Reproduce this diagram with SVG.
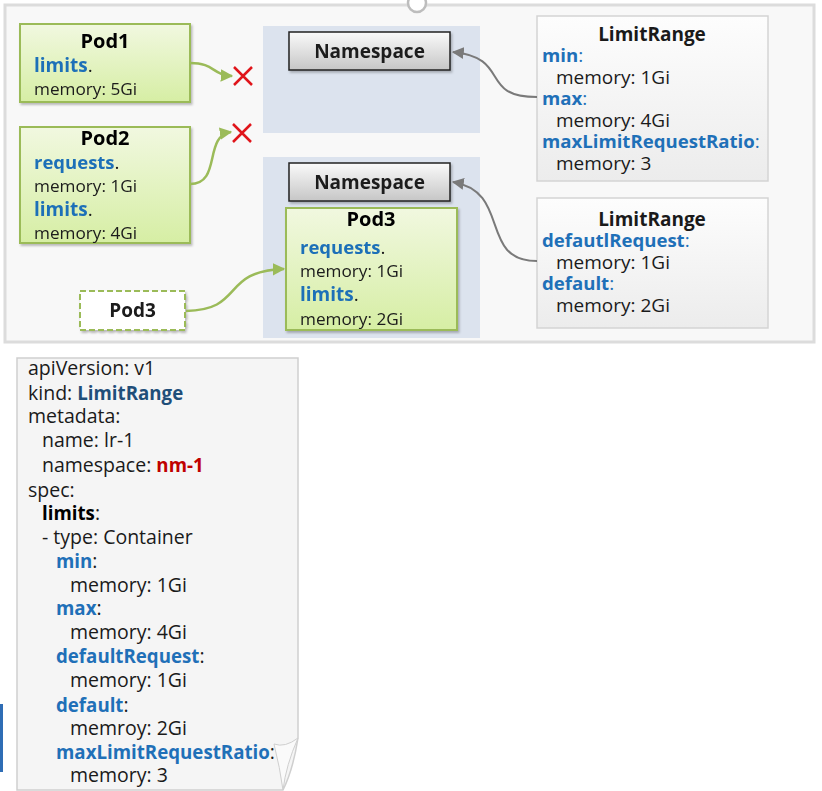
<svg xmlns="http://www.w3.org/2000/svg" width="822" height="791" viewBox="0 0 822 791">
<style>
text{font-family:"Open Sans","Noto Sans","DejaVu Sans",sans-serif;fill:#1a1a1a}
.t{font-size:19px}
.pm{font-size:17.2px}
.blue{fill:#1f70b8;font-weight:bold}
.title{font-size:20px;font-weight:bold;fill:#000}
.pod{fill:url(#gPod);stroke:#9bbb59;stroke-width:2}
.ns{fill:url(#gNs);stroke:#222;stroke-width:1.5}
.panel{fill:#dce3ee}
.lr{fill:url(#gLr);stroke:#d4d4d4;stroke-width:1.5}
.y{font-size:19.5px}
.yb{font-size:18.7px;font-weight:bold}
.gline{fill:none;stroke:#9bbb59;stroke-width:2.5}
.kline{fill:none;stroke:#7a7a7a;stroke-width:2}
.x{stroke:#e0151b;stroke-width:2.5}
</style>
<defs>
<linearGradient id="gPod" x1="0" y1="0" x2="0" y2="1"><stop offset="0" stop-color="#f1f8e0"/><stop offset="1" stop-color="#d6eea4"/></linearGradient>
<linearGradient id="gNs" x1="0" y1="0" x2="0" y2="1"><stop offset="0" stop-color="#fafafa"/><stop offset="1" stop-color="#c6c6c6"/></linearGradient>
<linearGradient id="gLr" x1="0" y1="0" x2="0" y2="1"><stop offset="0" stop-color="#fdfdfd"/><stop offset="1" stop-color="#ececec"/></linearGradient>
<marker id="ag" viewBox="0 0 10 10" refX="9" refY="5" markerWidth="5" markerHeight="5" orient="auto" markerUnits="strokeWidth"><path d="M0,0 L10,5 L0,10 z" fill="#9bbb59"/></marker>
<marker id="ak" viewBox="0 0 10 10" refX="9" refY="5" markerWidth="6" markerHeight="6" orient="auto" markerUnits="strokeWidth"><path d="M0,0 L10,5 L0,10 z" fill="#7a7a7a"/></marker>
<filter id="sh" x="-10%" y="-10%" width="130%" height="130%"><feDropShadow dx="1.5" dy="2" stdDeviation="1.2" flood-color="#000" flood-opacity="0.25"/></filter>
</defs>
<rect x="0" y="0" width="822" height="791" fill="#ffffff"/>
<g id="frame">
<rect x="5" y="5" width="809" height="337" fill="#f8f8f8" stroke="#dcdcdc" stroke-width="3"/>
<circle cx="417" cy="3" r="9" fill="#ffffff" stroke="#bdbdbd" stroke-width="2.5"/>
</g>
<g id="ns1-panel"><rect class="panel" x="263" y="26" width="217" height="107"/></g>
<g id="ns2-panel"><rect class="panel" x="263" y="157" width="217" height="181"/></g>
<g id="pod1" filter="url(#sh)">
<rect class="pod" x="20" y="24" width="170" height="78"/>
<text class="title" x="105" y="48" text-anchor="middle">Pod1</text>
<text class="t" x="34" y="72"><tspan class="blue">limits</tspan>.</text>
<text class="pm" x="34" y="95">memory: 5Gi</text>
</g>
<g id="pod2" filter="url(#sh)">
<rect class="pod" x="20" y="127" width="170" height="116"/>
<text class="title" x="105" y="145" text-anchor="middle">Pod2</text>
<text class="t" x="34" y="169"><tspan class="blue" font-size="18.5">requests</tspan>.</text>
<text class="pm" x="34" y="192">memory: 1Gi</text>
<text class="t" x="34" y="216"><tspan class="blue">limits</tspan>.</text>
<text class="pm" x="34" y="239">memory: 4Gi</text>
</g>
<g id="x1"><path class="x" d="M234,67 L252,85 M252,67 L234,85"/></g>
<g id="x2"><path class="x" d="M233,124 L251,142 M251,124 L233,142"/></g>
<g id="ns1" filter="url(#sh)">
<rect class="ns" x="289" y="32" width="161" height="38"/>
<text x="369.5" y="58" text-anchor="middle" font-size="19" font-weight="bold" fill="#000">Namespace</text>
</g>
<g id="ns2" filter="url(#sh)">
<rect class="ns" x="289" y="163" width="161" height="38"/>
<text x="369.5" y="189" text-anchor="middle" font-size="19" font-weight="bold" fill="#000">Namespace</text>
</g>
<g id="pod3-in" filter="url(#sh)">
<rect class="pod" x="286" y="208" width="171" height="122"/>
<text class="title" x="371" y="226" text-anchor="middle">Pod3</text>
<text class="t" x="300" y="254"><tspan class="blue" font-size="18.5">requests</tspan>.</text>
<text class="pm" x="300" y="277">memory: 1Gi</text>
<text class="t" x="300" y="301"><tspan class="blue">limits</tspan>.</text>
<text class="pm" x="300" y="325">memory: 2Gi</text>
</g>
<g id="pod3-new" filter="url(#sh)">
<rect x="80" y="291" width="105" height="39" fill="#ffffff" stroke="#9bbb59" stroke-width="2" stroke-dasharray="6,3"/>
<text x="132.5" y="317" text-anchor="middle" font-size="19" font-weight="bold" fill="#000">Pod3</text>
</g>
<g id="lr1">
<rect class="lr" x="537" y="16" width="231" height="165"/>
<text x="652" y="41" text-anchor="middle" font-size="19" font-weight="bold" fill="#000">LimitRange</text>
<text class="t" x="542" y="62"><tspan class="blue" font-size="18.6">min</tspan><tspan fill="#1f70b8">:</tspan></text>
<text class="t" x="556" y="84">memory: 1Gi</text>
<text class="t" x="542" y="105"><tspan class="blue" font-size="18.6">max</tspan><tspan fill="#1f70b8">:</tspan></text>
<text class="t" x="556" y="127">memory: 4Gi</text>
<text class="t" x="542" y="148"><tspan class="blue" font-size="18.6">maxLimitRequestRatio</tspan><tspan fill="#1f70b8">:</tspan></text>
<text class="t" x="556" y="170">memory: 3</text>
</g>
<g id="lr2">
<rect class="lr" x="537" y="198" width="231" height="130"/>
<text x="652" y="226" text-anchor="middle" font-size="19" font-weight="bold" fill="#000">LimitRange</text>
<text class="t" x="542" y="247"><tspan class="blue" font-size="18.6">defautlRequest</tspan><tspan fill="#1f70b8">:</tspan></text>
<text class="t" x="556" y="269">memory: 1Gi</text>
<text class="t" x="542" y="290"><tspan class="blue" font-size="18.6">default</tspan><tspan fill="#1f70b8">:</tspan></text>
<text class="t" x="556" y="312">memory: 2Gi</text>
</g>
<g id="connectors">
<path class="gline" d="M190,63 C215,63 212,75 232,76" marker-end="url(#ag)"/>
<path class="gline" d="M190,184 C222,184 203,136 231,132" marker-end="url(#ag)"/>
<path class="gline" d="M186,311 C245,310 220,271 284,269" marker-end="url(#ag)"/>
<path class="kline" d="M537,97 C478,97 512,58 453,52" marker-end="url(#ak)"/>
<path class="kline" d="M537,261 C478,261 512,192 453,182" marker-end="url(#ak)"/>
</g>
<g id="yaml">
<path d="M17,358 L298,358 L298,738 Q293,770 283,790 L17,790 Z" fill="#f5f5f5" stroke="#cfcfcf" stroke-width="1.5"/>
<path d="M283,790 Q286,765 298,738 Q285,748 274,744 Q280,768 283,790 Z" fill="#fafafa" stroke="#cfcfcf" stroke-width="1"/>
<text class="y" x="28" y="375">apiVersion: v1</text>
<text class="y" x="28" y="400">kind: <tspan class="yb" fill="#1f4e79">LimitRange</tspan></text>
<text class="y" x="28" y="423">metadata:</text>
<text class="y" x="42" y="447">name: lr-1</text>
<text class="y" x="42" y="472">namespace: <tspan class="yb" fill="#c00000">nm-1</tspan></text>
<text class="y" x="28" y="497">spec:</text>
<text class="y" x="42" y="520"><tspan class="yb" fill="#000">limits</tspan>:</text>
<text class="y" x="42" y="544">- type: Container</text>
<text class="y" x="56" y="568"><tspan class="yb" fill="#1f70b8">min</tspan>:</text>
<text class="y" x="70" y="592">memory: 1Gi</text>
<text class="y" x="56" y="615"><tspan class="yb" fill="#1f70b8">max</tspan>:</text>
<text class="y" x="70" y="639">memory: 4Gi</text>
<text class="y" x="56" y="663"><tspan class="yb" fill="#1f70b8">defaultRequest</tspan>:</text>
<text class="y" x="70" y="687">memory: 1Gi</text>
<text class="y" x="56" y="712"><tspan class="yb" fill="#1f70b8">default</tspan>:</text>
<text class="y" x="70" y="735">memroy: 2Gi</text>
<text class="y" x="56" y="759"><tspan class="yb" fill="#1f70b8">maxLimitRequestRatio</tspan>:</text>
<text class="y" x="70" y="782">memory: 3</text>
</g>
<rect x="0" y="704" width="3" height="68" fill="#2f6db5"/>
</svg>
